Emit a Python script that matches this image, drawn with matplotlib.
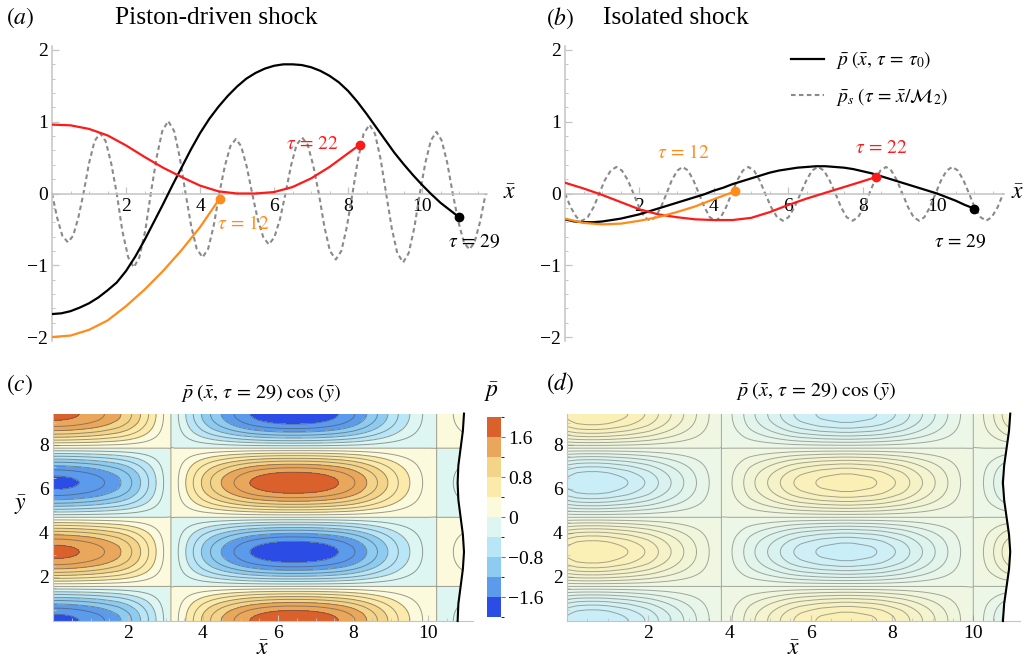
import numpy as np
import matplotlib.pyplot as plt
from matplotlib.colors import ListedColormap, BoundaryNorm, LinearSegmentedColormap
from matplotlib.ticker import MultipleLocator, FixedLocator

plt.rcParams['font.family'] = ['Liberation Serif', 'DejaVu Serif']
plt.rcParams['mathtext.fontset'] = 'stix'
plt.rcParams['contour.negative_linestyle'] = 'solid'

# ---------------- data ----------------
# black curves p(x, tau=29), sampled every 0.25 in x
x_black = np.arange(45) * 0.25
p_black_a = [-1.68, -1.67, -1.64, -1.59, -1.53, -1.45, -1.35, -1.24, -1.08, -0.88,
             -0.65, -0.40, -0.15, 0.11, 0.36, 0.61, 0.84, 1.04, 1.21, 1.36,
             1.49, 1.60, 1.68, 1.74, 1.78, 1.80, 1.80, 1.79, 1.76, 1.71,
             1.64, 1.55, 1.43, 1.28, 1.11, 0.93, 0.75, 0.57, 0.41, 0.26,
             0.12, -0.01, -0.13, -0.23, -0.33]
p_black_b = [-0.36, -0.39, -0.40, -0.40, -0.39, -0.37, -0.35, -0.32, -0.29, -0.25,
             -0.21, -0.17, -0.13, -0.09, -0.05, -0.01, 0.04, 0.08, 0.13, 0.17,
             0.21, 0.25, 0.29, 0.32, 0.34, 0.36, 0.37, 0.38, 0.38, 0.37,
             0.36, 0.34, 0.31, 0.28, 0.24, 0.20, 0.16, 0.12, 0.08, 0.04,
             0.00, -0.05, -0.10, -0.16, -0.21]

# red curves (tau = 22)
x_red = [0, 0.5, 1.0, 1.5, 2.0, 2.5, 3.0, 3.5, 4.0, 4.5, 5.0, 5.5, 6.0, 6.5, 7.0, 7.5, 8.0, 8.32]
p_red_a = [0.96, 0.95, 0.90, 0.81, 0.67, 0.51, 0.36, 0.23, 0.11, 0.03, 0.0, 0.0, 0.02, 0.09, 0.21, 0.37, 0.56, 0.68]
x_red_b = [0, 0.5, 1.0, 1.5, 2.0, 2.5, 3.0, 3.5, 4.0, 4.5, 5.0, 5.5, 6.0, 6.5, 7.0, 7.5, 8.0, 8.36]
p_red_b = [0.15, 0.07, -0.02, -0.12, -0.22, -0.29, -0.33, -0.36, -0.37, -0.37, -0.34, -0.26, -0.16, -0.07, 0.01, 0.09, 0.17, 0.23]

# orange curves (tau = 12)
x_orange_a = [0, 0.5, 1.0, 1.5, 2.0, 2.5, 3.0, 3.5, 4.0, 4.53]
p_orange_a = [-2.0, -1.98, -1.90, -1.77, -1.57, -1.34, -1.08, -0.79, -0.47, -0.07]
x_orange_b = [0, 0.5, 1.0, 1.5, 2.0, 2.5, 3.0, 3.5, 4.0, 4.57]
p_orange_b = [-0.35, -0.41, -0.43, -0.42, -0.38, -0.33, -0.26, -0.18, -0.08, 0.03]

# dashed grey curves p_s(tau = x / M2)
x_ps_a = [0, 0.14, 0.28, 0.43, 0.57, 0.71, 0.85, 1.00, 1.15, 1.30, 1.45, 1.60,
          1.75, 1.90, 2.06, 2.21, 2.36, 2.52, 2.67, 2.83, 2.98, 3.14, 3.30, 3.45,
          3.61, 3.76, 3.91, 4.07, 4.22, 4.37, 4.52, 4.67, 4.82, 4.97, 5.11, 5.26,
          5.41, 5.56, 5.71, 5.86, 6.01, 6.16, 6.31, 6.46, 6.61, 6.76, 6.91, 7.06,
          7.21, 7.36, 7.51, 7.67, 7.82, 7.97, 8.12, 8.27, 8.42, 8.58, 8.73, 8.88,
          9.03, 9.18, 9.33, 9.49, 9.64, 9.79, 9.94, 10.09, 10.24, 10.39, 10.53, 10.68,
          10.83, 10.98, 11.13, 11.28, 11.42, 11.57, 11.72]
p_ps_a = [0, -0.34, -0.59, -0.68, -0.59, -0.34, 0, 0.42, 0.73, 0.84, 0.73, 0.42,
          0, -0.52, -0.89, -1.03, -0.89, -0.52, 0, 0.51, 0.87, 1.01, 0.87, 0.51,
          0, -0.45, -0.77, -0.89, -0.77, -0.45, 0, 0.38, 0.66, 0.76, 0.66, 0.38,
          0, -0.36, -0.61, -0.71, -0.61, -0.36, 0, 0.39, 0.68, 0.78, 0.68, 0.39,
          0, -0.46, -0.80, -0.92, -0.80, -0.46, 0, 0.48, 0.83, 0.96, 0.83, 0.48,
          0, -0.48, -0.83, -0.96, -0.83, -0.48, 0, 0.43, 0.74, 0.86, 0.74, 0.43,
          0, -0.39, -0.68, -0.78, -0.68, -0.39, 0]
x_ps_b = [0, 0.15, 0.31, 0.46, 0.61, 0.77, 0.92, 1.07, 1.23, 1.38, 1.53, 1.69,
          1.84, 1.99, 2.14, 2.29, 2.43, 2.58, 2.73, 2.87, 3.02, 3.16, 3.31, 3.45,
          3.60, 3.75, 3.89, 4.04, 4.19, 4.33, 4.48, 4.63, 4.78, 4.93, 5.08, 5.23,
          5.38, 5.54, 5.70, 5.86, 6.01, 6.17, 6.33, 6.49, 6.64, 6.80, 6.96, 7.11,
          7.27, 7.42, 7.57, 7.73, 7.88, 8.03, 8.18, 8.33, 8.48, 8.63, 8.77, 8.92,
          9.07, 9.22, 9.37, 9.52, 9.66, 9.81, 9.96, 10.11, 10.26, 10.41, 10.56, 10.71,
          10.86, 11.01, 11.17, 11.32, 11.47, 11.63, 11.78]
p_ps_b = [0, -0.19, -0.33, -0.38, -0.33, -0.19, 0, 0.185, 0.32, 0.37, 0.32, 0.185,
          0, -0.19, -0.33, -0.38, -0.33, -0.19, 0, 0.185, 0.32, 0.37, 0.32, 0.185,
          0, -0.19, -0.33, -0.38, -0.33, -0.19, 0, 0.185, 0.32, 0.37, 0.32, 0.185,
          0, -0.19, -0.33, -0.38, -0.33, -0.19, 0, 0.185, 0.32, 0.37, 0.32, 0.185,
          0, -0.19, -0.33, -0.38, -0.33, -0.19, 0, 0.185, 0.32, 0.37, 0.32, 0.185,
          0, -0.19, -0.33, -0.38, -0.33, -0.19, 0, 0.185, 0.32, 0.37, 0.32, 0.185,
          0, -0.19, -0.33, -0.38, -0.33, -0.19, 0]

# shock position (wavy black line) in panels c and d
y_shock = np.arange(13) * np.pi / 4
x_shock_c = [10.79, 10.81, 10.87, 10.93, 10.96, 10.93, 10.87, 10.81, 10.79, 10.81, 10.87, 10.93, 10.96]
x_shock_d = [10.73, 10.76, 10.82, 10.88, 10.91, 10.88, 10.82, 10.76, 10.73, 10.76, 10.82, 10.88, 10.91]

cbar_ticks = [-1.6, -0.8, 0, 0.8, 1.6]
cbar_ticklabels = ['\u22121.6', '\u22120.8', '0', '0.8', '1.6']

# ---------------- styles ----------------
RED = '#ff1a1a'
ORANGE = '#ff8c1a'
GREY = '#8a8a8a'
AXC = '#c4c4c4'
fill_colors = ['#2b4de6', '#5c9bec', '#8ecbf1', '#b8e6f6', '#ddf6f1',
               '#fcfadc', '#fbeaa9', '#f3d489', '#e9a75c', '#da612c']

fig = plt.figure(figsize=(10.27, 6.64), dpi=100)
W, H = 1027.0, 664.0


def px_axes(left, top, right, bottom):
    return fig.add_axes([left / W, 1 - bottom / H, (right - left) / W, (bottom - top) / H])


def line_axes(ax, xmax):
    ax.set_xlim(0, xmax)
    ax.set_ylim(-2.05, 2.05)
    ax.patch.set_alpha(0)
    for s in ['top', 'right']:
        ax.spines[s].set_visible(False)
    for s in ['bottom', 'left']:
        ax.spines[s].set_position(('data', 0))
        ax.spines[s].set_color(AXC)
        ax.spines[s].set_linewidth(1.1)
    ax.xaxis.set_major_locator(FixedLocator([2, 4, 6, 8, 10]))
    ax.xaxis.set_minor_locator(MultipleLocator(0.5))
    ax.yaxis.set_major_locator(MultipleLocator(1))
    ax.yaxis.set_minor_locator(MultipleLocator(0.2))
    ax.tick_params(which='both', direction='in', color=AXC, labelsize=14)
    ax.tick_params(which='major', length=5, width=0.9, pad=3)
    ax.tick_params(which='minor', length=2.5, width=0.7)


def dashed(ax, x, y, **kw):
    ln, = ax.plot(x, y, color=GREY, lw=1.5, **kw)
    ln.set_dashes((2.2, 1.6))
    return ln


def tau(n):
    return r'$\tau\,=\,%s$' % n


# ---------------- panel (a) ----------------
ax_a = px_axes(52, 46.4, 486.8, 340.6)
line_axes(ax_a, 11.75)
dashed(ax_a, x_ps_a, p_ps_a, zorder=2)
ax_a.plot(x_black, p_black_a, color='black', lw=1.6, zorder=3)
ax_a.plot(x_red, p_red_a, color=RED, lw=1.6, zorder=3)
ax_a.plot(x_orange_a, p_orange_a, color=ORANGE, lw=1.6, zorder=3)
ax_a.plot(x_black[-1], p_black_a[-1], 'o', color='black', ms=6, zorder=4)
ax_a.plot(x_red[-1], p_red_a[-1], 'o', color=RED, ms=6, zorder=4)
ax_a.plot(x_orange_a[-1], p_orange_a[-1], 'o', color=ORANGE, ms=6, zorder=4)
ax_a.text(7.03, 0.68, tau(22), color=RED, fontsize=14, ha='center', va='center')
ax_a.text(5.16, -0.43, tau(12), color=ORANGE, fontsize=14, ha='center', va='center')
ax_a.text(11.4, -0.67, tau(29), color='black', fontsize=14, ha='center', va='center', clip_on=False)
ax_a.text(12.2, 0.0, r'$\bar{x}$', fontsize=17, va='center', ha='left', clip_on=False)

# ---------------- panel (b) ----------------
ax_b = px_axes(565, 46.4, 1004, 340.6)
line_axes(ax_b, 11.8)
ps_line = dashed(ax_b, x_ps_b, p_ps_b, zorder=2, label=r'$\bar{p}_s\;(\tau\,=\,\bar{x}/\mathcal{M}_2)$')
bl_line, = ax_b.plot(x_black, p_black_b, color='black', lw=1.6, zorder=3,
                     label=r'$\bar{p}\;(\bar{x},\, \tau\,=\,\tau_0)$')
ax_b.plot(x_red_b, p_red_b, color=RED, lw=1.6, zorder=3)
ax_b.plot(x_orange_b, p_orange_b, color=ORANGE, lw=1.6, zorder=3)
ax_b.plot(x_black[-1], p_black_b[-1], 'o', color='black', ms=6, zorder=4)
ax_b.plot(x_red_b[-1], p_red_b[-1], 'o', color=RED, ms=6, zorder=4)
ax_b.plot(x_orange_b[-1], p_orange_b[-1], 'o', color=ORANGE, ms=6, zorder=4)
ax_b.text(3.17, 0.57, tau(12), color=ORANGE, fontsize=14, ha='center', va='center')
ax_b.text(8.49, 0.63, tau(22), color=RED, fontsize=14, ha='center', va='center')
ax_b.text(10.62, -0.68, tau(29), color='black', fontsize=14, ha='center', va='center')
ax_b.text(12.0, 0.0, r'$\bar{x}$', fontsize=17, va='center', ha='left', clip_on=False)
ax_b.legend(handles=[bl_line, ps_line], loc='upper left', bbox_to_anchor=(0.515, 0.99),
            frameon=False, fontsize=14, handlelength=1.7, handletextpad=0.6,
            labelspacing=0.75, borderpad=0, borderaxespad=0)

# ---------------- panels (c), (d) ----------------
y_grid = np.linspace(0, 3 * np.pi, 240)
title_cd = r'$\bar{p}\;(\bar{x},\, \tau\,=\,29)\;\cos\,(\bar{y})$'


def contour_axes(ax, xmax):
    ax.set_xlim(0, xmax)
    ax.set_ylim(0, 3 * np.pi)
    for s in ['top', 'right']:
        ax.spines[s].set_visible(False)
    for s in ['bottom', 'left']:
        ax.spines[s].set_color(AXC)
        ax.spines[s].set_linewidth(0.8)
    ax.xaxis.set_major_locator(FixedLocator([2, 4, 6, 8, 10]))
    ax.xaxis.set_minor_locator(MultipleLocator(0.5))
    ax.yaxis.set_major_locator(FixedLocator([2, 4, 6, 8]))
    ax.yaxis.set_minor_locator(MultipleLocator(0.5))
    ax.tick_params(which='both', direction='in', color=AXC, labelsize=14)
    ax.tick_params(which='major', length=4, width=0.8, pad=3)
    ax.tick_params(which='minor', length=2, width=0.6)
    ax.set_xlabel(r'$\bar{x}$', fontsize=17, labelpad=-2)


def shock(ax, xs, xmax):
    ax.fill_betweenx(y_shock, xs, xmax + 0.5, color='white', lw=0, zorder=2.2)
    ax.plot(xs, y_shock, color='black', lw=1.5, zorder=3, clip_on=False)


ax_c = px_axes(53, 413.6, 473, 621)
contour_axes(ax_c, 11.2)
field_c = np.outer(np.cos(y_grid), p_black_a)
cmap_c = ListedColormap(fill_colors)
norm_c = BoundaryNorm(np.linspace(-2, 2, 11), cmap_c.N)
cf = ax_c.contourf(x_black, y_grid, field_c, levels=np.linspace(-2, 2, 11), cmap=cmap_c, norm=norm_c)
ax_c.contour(x_black, y_grid, field_c, levels=np.linspace(-1.6, 1.6, 17),
             colors='#4a4a4a', linewidths=0.7, alpha=0.55)
shock(ax_c, x_shock_c, 11.2)
ax_c.set_ylabel(r'$\bar{y}$', fontsize=17, rotation=0)
ax_c.yaxis.set_label_coords(-0.079, 0.5)
ax_c.text(0.495, 1.1, title_cd, transform=ax_c.transAxes, fontsize=14.5, ha='center', va='center')

cax = px_axes(487, 417, 501, 617)
cb = fig.colorbar(cf, cax=cax, ticks=cbar_ticks)
cb.set_ticklabels(cbar_ticklabels)
cb.outline.set_visible(False)
cax.tick_params(labelsize=14, length=3, width=0.8, color='#777777', pad=2)
fig.text(492 / W, 1 - 392 / H, r'$\bar{p}$', fontsize=17, ha='center', va='center')

ax_d = px_axes(567, 413.6, 1020, 621)
contour_axes(ax_d, 11.15)
field_d = np.outer(np.cos(y_grid), p_black_b)
cmap_d = LinearSegmentedColormap.from_list('pale', ['#c6edf8', '#eef8e6', '#fbeeb2'])
ax_d.contourf(x_black, y_grid, field_d, levels=np.linspace(-0.4, 0.4, 17), cmap=cmap_d)
ax_d.contour(x_black, y_grid, field_d, levels=np.linspace(-0.35, 0.35, 15),
             colors='#555555', linewidths=0.7, alpha=0.5)
shock(ax_d, x_shock_d, 11.15)
ax_d.text(0.55, 1.11, title_cd, transform=ax_d.transAxes, fontsize=14.5, ha='center', va='center')

# panel letters and titles
fig.text(20 / W, 1 - 18 / H, r'$(a)$', fontsize=17, ha='center', va='center')
fig.text(115 / W, 1 - 18 / H, 'Piston-driven shock', fontsize=18.3, ha='left', va='center')
fig.text(560 / W, 1 - 18 / H, r'$(b)$', fontsize=17, ha='center', va='center')
fig.text(603 / W, 1 - 18 / H, 'Isolated shock', fontsize=18.3, ha='left', va='center')
fig.text(20 / W, 1 - 385 / H, r'$(c)$', fontsize=17, ha='center', va='center')
fig.text(560 / W, 1 - 383 / H, r'$(d)$', fontsize=17, ha='center', va='center')

fig.savefig('out.png', dpi=100)
